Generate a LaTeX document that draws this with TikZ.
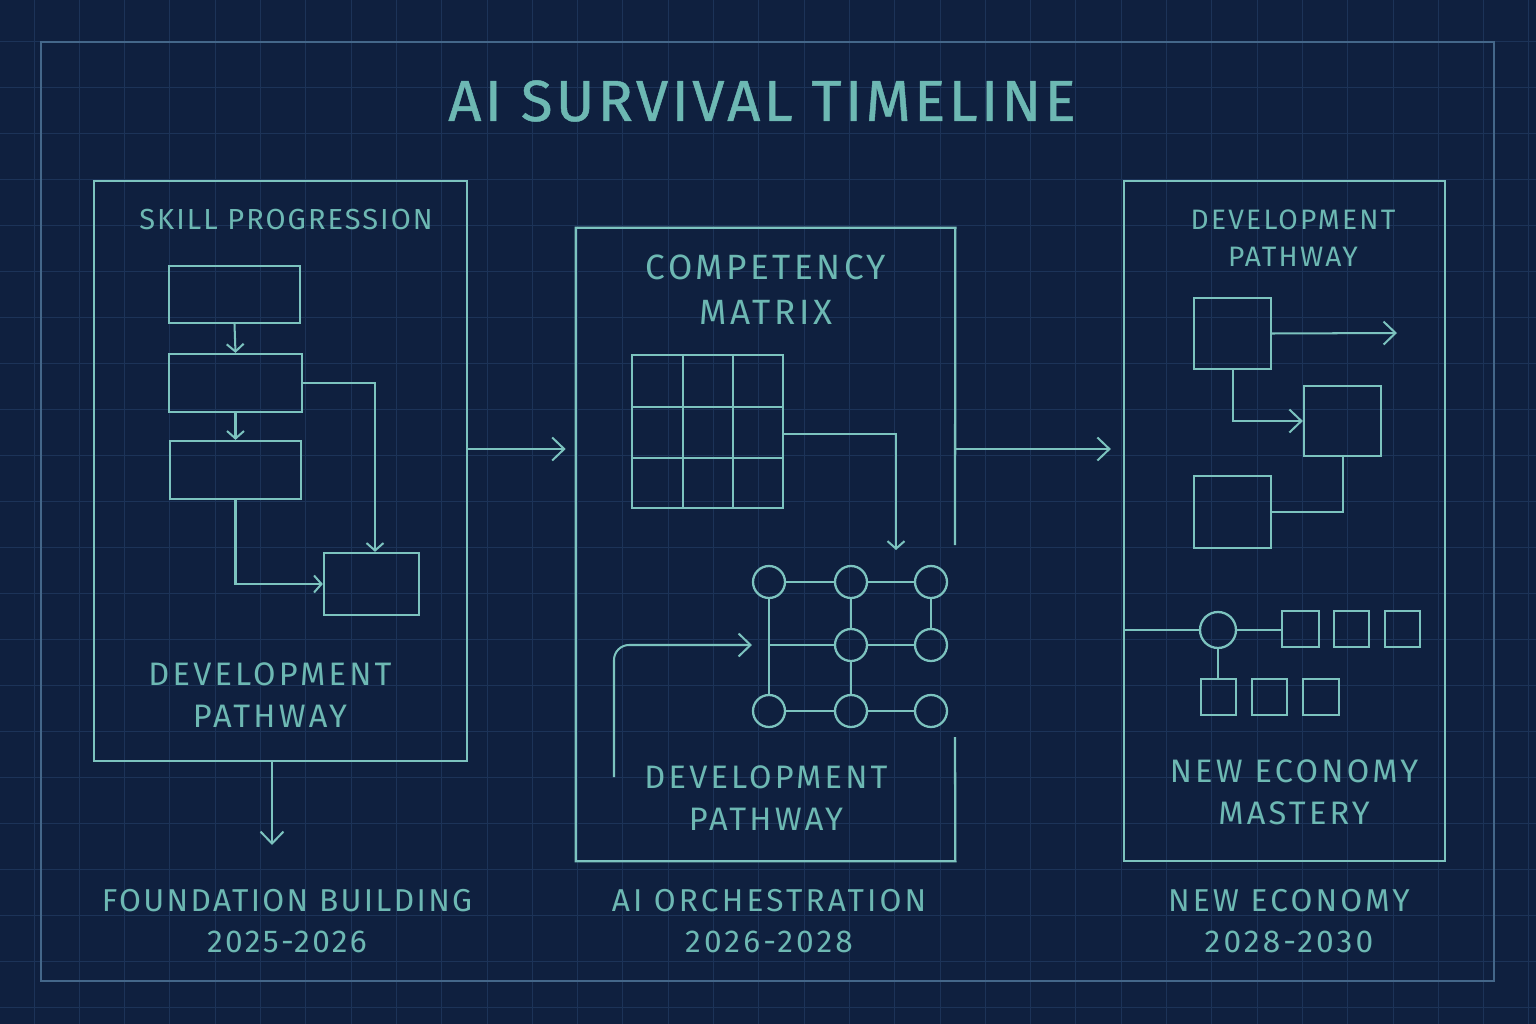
\documentclass[tikz,border=0pt]{standalone}
\usepackage{fontspec}
\setmainfont{Fira Sans}
\newfontfamily\lblfont[LetterSpace=10]{Fira Sans}
\newfontfamily\lblfontS[LetterSpace=7]{Fira Sans}
\newfontfamily\lblfontR[LetterSpace=8]{Fira Sans}
\newfontfamily\lblfontF[LetterSpace=7.5]{Fira Sans}
\newfontfamily\ttlfont[LetterSpace=6,FakeBold=0.8]{Fira Sans}
\usetikzlibrary{arrows.meta,fit}
\definecolor{bg}{HTML}{0F203F}
\definecolor{gridc}{HTML}{1C3358}
\definecolor{ln}{HTML}{7CC3BF}
\definecolor{tx}{HTML}{6DB8B3}
\definecolor{frm}{HTML}{44678A}
\begin{document}
\begin{tikzpicture}[x=0.02cm,y=-0.02cm,
  box/.style={draw=ln, line width=1.3pt, inner sep=0pt},
  conn/.style={draw=ln, line width=1.15pt},
  arr/.style={draw=ln, line width=1.15pt, -{Straight Barb[length=1.5mm,width=3.4mm]}},
  bigarr/.style={draw=ln, line width=1.15pt, -{Straight Barb[length=2.4mm,width=4.6mm]}},
  circ/.style={draw=ln, circle, line width=1.3pt, inner sep=0pt, minimum size=0.64cm},
  lblA/.style={text=tx, align=center, font=\lblfont\fontsize{18.5pt}{24pt}\selectfont},
  lblS/.style={text=tx, align=center, font=\lblfontS\fontsize{16.5pt}{21pt}\selectfont},
  lblR/.style={text=tx, align=center, font=\lblfontR\fontsize{16pt}{21pt}\selectfont},
  lblC/.style={text=tx, align=center, font=\lblfont\fontsize{20pt}{25.6pt}\selectfont},
  lblB/.style={text=tx, align=center, font=\lblfont\fontsize{18pt}{23.3pt}\selectfont},
  lblF/.style={text=tx, align=center, font=\lblfontF\fontsize{18pt}{23.3pt}\selectfont},
  ttl/.style={text=tx, font=\ttlfont\fontsize{33pt}{36pt}\selectfont}]
\fill[bg] (0,0) rectangle (1536,1024);
\useasboundingbox (0,0) rectangle (1536,1024);
% grid
\foreach \i in {0,...,33} \draw[gridc, line width=0.5pt] ({34+45.3*\i},0) -- ({34+45.3*\i},1024);
\foreach \j in {0,...,22} \draw[gridc, line width=0.5pt] (0,{41+46*\j}) -- (1536,{41+46*\j});
% outer frame
\draw[frm, line width=0.8pt] (41,42) rectangle (1494,981);
% title
\node[ttl] (title) at (762,101) {AI SURVIVAL TIMELINE};
\coordinate (y449) at (0,449);
% ---------- left panel
\node[box, fit={(94,181)(467,761)}] (lp) {};
\node[lblS] (lpt) at (286,220) {SKILL PROGRESSION};
\node[box, fit={(169,266)(300,323)}] (b1) {};
\node[box, fit={(169,354)(302,412)}] (b2) {};
\node[box, fit={(170,441)(301,499)}] (b3) {};
\node[box, fit={(324,553)(419,615)}] (b4) {};
\draw[arr] (b1.south) -- (b2.north);
\draw[arr] (b2.south) -- (b3.north);
\draw[arr] (b2.east) -| ([xshift=0.07cm]b4.north);
\draw[arr] (b3.south) |- (b4.west);
\node[lblA] (lpd) at (270,695) {DEVELOPMENT\\PATHWAY};
\coordinate (lpdown) at (272,845);
\draw[bigarr] (lp.south -| lpdown) -- (lpdown);
\node[lblF] (fb) at (287,921) {FOUNDATION BUILDING\\2025-2026};
% ---------- middle panel
\node[inner sep=0pt, fit={(576,228)(955,861)}] (mp) {};
\draw[ln, line width=1.3pt] (955,545) -- (mp.north east) -- (mp.north west) -- (mp.south west) -- (mp.south east) -- (955,737);
\node[lblC] (cm) at (766,290) {COMPETENCY\\MATRIX};
\node[box, fit={(632,355)(783,508)}] (mx) {};
\foreach \x in {683,733} \draw[ln, line width=1.3pt] (\x,355) -- (\x,508);
\foreach \y in {407,458} \draw[ln, line width=1.3pt] (632,\y) -- (783,\y);
\coordinate (mxend) at (896,550);
\coordinate (mxy) at (0,434);
\draw[arr] (mx.east |- mxy) -| (mxend);
\node[circ] (n11) at (769,582) {};
\node[circ] (n12) at (851,582) {};
\node[circ] (n13) at (931,582) {};
\coordinate (v21) at (769,645);
\node[circ] (n22) at (851,645) {};
\node[circ] (n23) at (931,645) {};
\node[circ] (n31) at (769,711) {};
\node[circ] (n32) at (851,711) {};
\node[circ] (n33) at (931,711) {};
\draw[conn] (n11) -- (n12); \draw[conn] (n12) -- (n13);
\draw[conn] (n11) -- (v21) -- (n31);
\draw[conn] (n12) -- (n22); \draw[conn] (n22) -- (n32);
\draw[conn] (n13) -- (n23);
\draw[conn] (v21) -- (n22); \draw[conn] (n22) -- (n23);
\draw[conn] (n31) -- (n32); \draw[conn] (n32) -- (n33);
\coordinate (cs) at (614,777);
\draw[bigarr, rounded corners=0.3cm, shorten >=0.34cm] (cs) |- (v21);
\node[lblA] (mpd) at (766,798) {DEVELOPMENT\\PATHWAY};
\node[lblB] (ao) at (769,921) {AI ORCHESTRATION\\2026-2028};
% ---------- right panel
\node[box, fit={(1124,181)(1445,861)}] (rp) {};
\node[lblR] (rpd) at (1293,238) {DEVELOPMENT\\PATHWAY};
\node[box, fit={(1194,298)(1271,369)}] (s1) {};
\node[box, fit={(1304,386)(1381,456)}] (s2) {};
\node[box, fit={(1194,476)(1271,548)}] (s3) {};
\coordinate (s1end) at (1397,333);
\draw[bigarr] (s1.east) -- (s1end);
\draw[bigarr] (s1.south) |- (s2.west);
\draw[conn] (s3.east) -| (s2.south);
\node[circ, minimum size=0.72cm] (c) at (1218,630) {};
\node[box, fit={(1282,611)(1319,647)}] (q1) {};
\node[box, fit={(1334,611)(1369,647)}] (q2) {};
\node[box, fit={(1385,611)(1420,647)}] (q3) {};
\node[box, fit={(1201,679)(1236,715)}] (r1) {};
\node[box, fit={(1252,679)(1287,715)}] (r2) {};
\node[box, fit={(1303,679)(1339,715)}] (r3) {};
\draw[conn] (rp.west |- c) -- (c);
\draw[conn] (c) -- (q1.west |- c);
\draw[conn] (c.south) -- (c.south |- r1.north);
\node[lblA] (nem) at (1294,792) {NEW ECONOMY\\MASTERY};
\node[lblB] (ne) at (1289,921) {NEW ECONOMY\\2028-2030};
% panel connectors
\draw[bigarr, shorten >=0.2cm] (lp.east |- y449) -- (mp.west |- y449);
\draw[bigarr, shorten >=0.24cm] (mp.east |- y449) -- (rp.west |- y449);
\end{tikzpicture}
\end{document}
